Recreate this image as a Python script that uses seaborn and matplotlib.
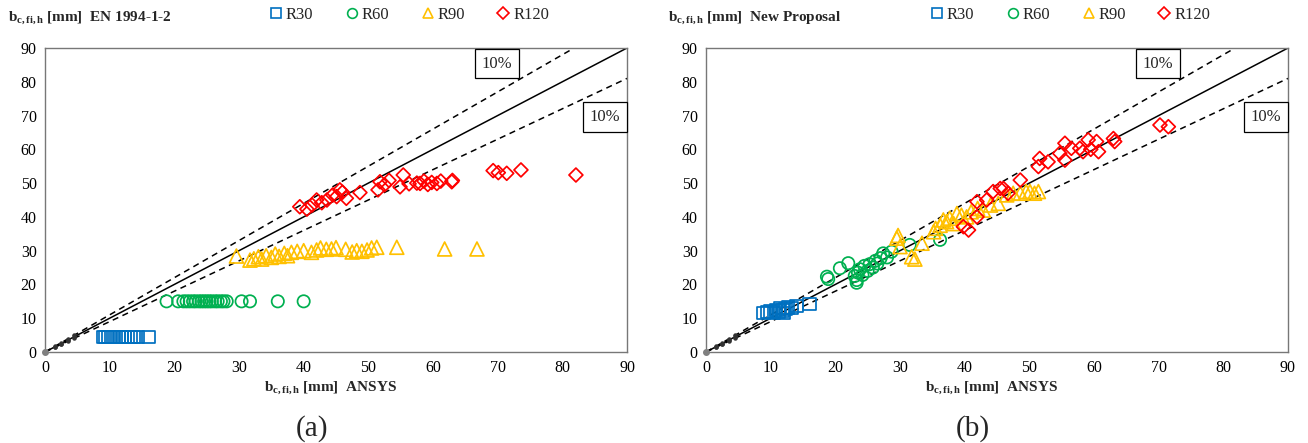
import numpy as np
import pandas as pd
import matplotlib
matplotlib.use("Agg")
import matplotlib.pyplot as plt
import seaborn as sns
from matplotlib.lines import Line2D

sns.set_theme(style="white")
plt.rcParams['font.family'] = ['Liberation Serif', 'DejaVu Serif']
plt.rcParams['mathtext.fontset'] = 'custom'
plt.rcParams['mathtext.rm'] = 'Liberation Serif'
plt.rcParams['mathtext.bf'] = 'Liberation Serif:bold'
plt.rcParams['mathtext.it'] = 'Liberation Serif:italic'

# ---------------- data ----------------
series_names = ["R30", "R60", "R90", "R120"]
ticks = [0, 10, 20, 30, 40, 50, 60, 70, 80, 90]

# (a) EN 1994-1-2
a_r30_x = [9.0, 9.3, 9.7, 10.2, 10.6, 11.4, 11.9, 12.4, 12.8, 13.3, 13.8, 14.3, 16.0]
a_r30_y = [4.4] * len(a_r30_x)
a_r60_x = [18.8, 20.6, 21.4, 21.9, 22.4, 22.9, 23.3, 23.8, 24.2, 24.6, 25.0, 25.4,
           25.8, 26.3, 26.7, 27.2, 27.6, 28.1, 30.4, 31.7, 36.0, 40.0]
a_r60_y = [15.0] * len(a_r60_x)
a_r90_x = [29.6, 31.7, 32.3, 33.0, 33.5, 34.2, 35.0, 35.6, 36.2, 37.0, 37.5, 38.1,
           39.0, 40.0, 41.2, 42.0, 42.6, 43.5, 44.3, 45.0, 46.5, 47.5, 48.2, 49.0,
           49.8, 50.5, 51.3, 54.4, 61.8, 66.8]
a_r90_y = [28.4, 27.2, 27.6, 28.2, 27.5, 28.5, 28.0, 29.0, 28.3, 29.2, 28.5, 29.5,
           29.8, 30.0, 29.5, 30.2, 30.8, 30.4, 30.5, 30.9, 30.4, 29.6, 30.0, 29.8,
           30.2, 30.8, 31.0, 31.0, 30.5, 30.5]
a_r120_x = [39.4, 40.5, 41.3, 42.0, 42.8, 43.6, 44.5, 45.1, 45.6, 46.0, 46.6, 48.7,
            51.5, 51.8, 52.5, 53.2, 54.9, 55.4, 56.3, 57.5, 58.0, 58.6, 59.2, 59.8,
            60.6, 61.2, 62.9, 63.0, 69.3, 70.1, 71.4, 73.6, 82.1]
a_r120_y = [43.0, 42.3, 43.5, 45.0, 44.2, 45.0, 46.5, 46.0, 48.0, 47.3, 45.5, 47.2,
            48.0, 50.4, 49.5, 50.8, 48.9, 52.4, 49.8, 50.0, 49.9, 50.6, 49.6, 50.2,
            49.9, 50.6, 50.4, 50.8, 53.7, 53.1, 52.9, 53.9, 52.4]

# (b) New Proposal
b_r30_x = [8.9, 9.4, 10.0, 10.5, 10.8, 11.2, 11.4, 11.8, 12.0, 12.3, 12.7, 13.2, 14.0, 16.0]
b_r30_y = [11.6, 11.8, 12.0, 11.5, 12.5, 12.0, 13.0, 12.3, 11.5, 12.8, 13.2, 13.0, 13.6, 14.2]
b_r60_x = [18.7, 18.9, 20.7, 22.0, 23.0, 23.3, 23.3, 23.5, 23.8, 24.2, 24.5, 25.0,
           25.3, 25.8, 26.2, 26.5, 27.0, 27.4, 28.0, 28.7, 31.5, 36.2]
b_r60_y = [22.3, 21.6, 24.8, 26.3, 22.5, 21.3, 20.5, 23.5, 24.5, 22.8, 25.5, 24.0,
           26.0, 25.0, 27.0, 26.2, 27.8, 29.2, 28.0, 29.7, 31.7, 33.2]
b_r90_x = [29.5, 29.7, 30.0, 31.8, 32.3, 33.4, 35.2, 35.5, 36.2, 36.7, 37.2, 37.7,
           38.3, 38.8, 39.5, 40.3, 41.0, 42.0, 42.9, 44.0, 45.2, 46.5, 47.5, 48.6,
           49.5, 50.1, 50.8, 51.4]
b_r90_y = [33.7, 34.5, 31.2, 28.2, 27.5, 32.2, 35.6, 36.6, 37.5, 39.1, 38.6, 39.6,
           38.0, 41.0, 40.5, 40.0, 41.5, 42.5, 42.0, 43.5, 44.0, 46.5, 47.0, 47.0,
           47.5, 47.5, 47.0, 47.5]
b_r120_x = [39.8, 40.6, 41.9, 41.9, 43.4, 44.4, 45.5, 46.0, 46.7, 48.6, 51.4, 51.6,
            52.9, 54.7, 55.5, 55.5, 56.5, 57.8, 58.3, 59.1, 59.5, 60.4, 60.7, 63.0,
            63.2, 70.2, 71.5]
b_r120_y = [37.1, 36.1, 40.0, 44.5, 45.0, 47.5, 48.4, 48.4, 47.0, 50.9, 54.9, 57.3,
            56.3, 58.8, 56.8, 61.8, 60.3, 60.3, 59.3, 62.8, 60.0, 62.3, 59.3, 63.2,
            62.3, 67.2, 66.7]

panels = [
    {"title": "EN 1994-1-2", "tag": "(a)",
     "xs": [a_r30_x, a_r60_x, a_r90_x, a_r120_x],
     "ys": [a_r30_y, a_r60_y, a_r90_y, a_r120_y]},
    {"title": "New Proposal", "tag": "(b)",
     "xs": [b_r30_x, b_r60_x, b_r90_x, b_r120_x],
     "ys": [b_r30_y, b_r60_y, b_r90_y, b_r120_y]},
]

colors = ["#0070C0", "#00B050", "#FFC000", "#FF0000"]
markers = ["s", "o", "^", "D"]
sizes = [80, 78, 100, 50]

W, H = 1308, 443
fig = plt.figure(figsize=(W / 100, H / 100), dpi=100)
ax_lefts = [45, 706]
ax_w, ax_top, ax_bot = 582, 48, 352

bsub = r'$\mathbf{b_{c,fi,h}}$'

for i, p in enumerate(panels):
    L = ax_lefts[i]
    ax = fig.add_axes([L / W, (H - ax_bot) / H, ax_w / W, (ax_bot - ax_top) / H])
    # reference lines
    line_x = np.array([0, 90])
    ax.plot(line_x, line_x, color="black", lw=1.1, zorder=1)
    ax.plot(line_x, 1.1 * line_x, color="black", lw=1.1, ls=(0, (4, 3)), zorder=1)
    ax.plot(line_x, 0.9 * line_x, color="black", lw=1.1, ls=(0, (4, 3)), zorder=1)
    ax.plot([0], [0], "o", color="gray", ms=4, zorder=3, clip_on=False)
    sm = np.array([1.5, 2.5, 3.5, 4.5])
    for k in (0.9, 1.0, 1.1):
        ax.plot(sm, k * sm, "o", color="#333333", ms=2.2, zorder=1)

    for name, xs, ys, c, m, s in zip(series_names, p["xs"], p["ys"], colors, markers, sizes):
        df = pd.DataFrame({"x": xs, "y": ys})
        sns.scatterplot(data=df, x="x", y="y", ax=ax, marker=m, s=s,
                        facecolor="none", edgecolor=c, linewidth=1.25, zorder=2,
                        legend=False)

    ax.set_xlim(0, 90)
    ax.set_ylim(0, 90)
    ax.set_xticks(ticks)
    ax.set_yticks(ticks)
    ax.set_xlabel("")
    ax.set_ylabel("")
    ax.tick_params(direction="in", length=4, width=0.8, colors="#555555",
                   labelcolor="black", labelsize=11.5, pad=6)
    for sp in ax.spines.values():
        sp.set_color("#777777")
        sp.set_linewidth(1.0)

    bb = dict(boxstyle="square,pad=0.4", fc="white", ec="black", lw=0.9)
    ax.text(69.9, 85.4, "10%", ha="center", va="center", fontsize=12, bbox=bb, zorder=4)
    ax.text(86.6, 69.6, "10%", ha="center", va="center", fontsize=12, bbox=bb, zorder=4)

    # legend
    handles = [Line2D([0], [0], marker=m, ls="none", mfc="none", mec=c, mew=1.2,
                      ms=7 if m != "D" else 6, label=n)
               for n, c, m in zip(series_names, colors, markers)]
    ax.legend(handles=handles, loc="center", bbox_to_anchor=(0.623, 1.11), ncol=4,
              frameon=False, fontsize=12, handletextpad=0.0, columnspacing=1.7,
              handlelength=1.2)

    # top-left title
    x0 = (L - 37) if i == 0 else (L - 38)
    fig.text(x0 / W, 1 - 18 / H, bsub + r" [mm]  " + p["title"], fontsize=11,
             fontweight="bold", ha="left", va="center")
    # x label
    cx = 330 if i == 0 else 991
    fig.text(cx / W, 1 - 388 / H, bsub + r" [mm]  ANSYS", fontsize=11,
             fontweight="bold", ha="center", va="center")
    # panel tag
    tx = 312 if i == 0 else 973
    fig.text(tx / W, 1 - 429 / H, p["tag"], fontsize=21, ha="center", va="center")

fig.savefig("out.png", dpi=100)
